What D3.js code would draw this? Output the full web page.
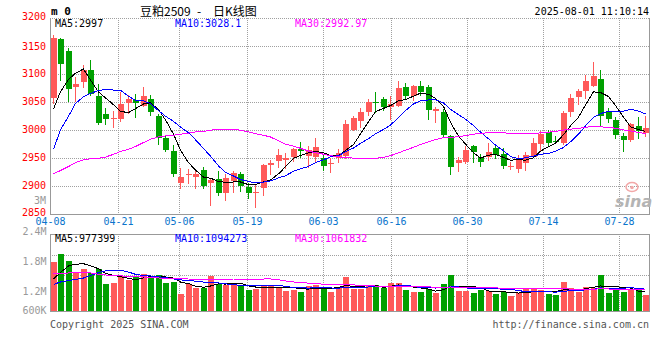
<!DOCTYPE html>
<html><head><meta charset="utf-8">
<script src="https://cdn.jsdelivr.net/npm/d3@7"></script>
<style>body{margin:0;background:#fff}svg{display:block}</style>
</head><body>
<svg id="c" width="660" height="360"></svg>
<script>
const dates = ["04-08","04-09","04-10","04-11","04-14","04-15","04-16","04-17","04-18","04-21","04-22","04-23","04-24","04-25","04-28","04-29","04-30",
"05-06","05-07","05-08","05-09","05-12","05-13","05-14","05-15","05-16","05-19","05-20","05-21","05-22","05-23","05-26","05-27","05-28","05-29","05-30",
"06-03","06-04","06-05","06-06","06-09","06-10","06-11","06-12","06-13","06-16","06-17","06-18","06-19","06-20","06-23","06-24","06-25","06-26","06-27","06-30",
"07-01","07-02","07-03","07-04","07-07","07-08","07-09","07-10","07-11","07-14","07-15","07-16","07-17","07-18","07-21","07-22","07-23","07-24","07-25","07-28","07-29","07-30","07-31",
"08-01"];
const open = [3057,3162,3141,3077,3086,3107,3061,3029,3020,3020,3048,3053,3043,3055,3024,2985,2962,2905,2920,2915,
2927,2905,2911,2886,2908,2921,2897,2888,2895,2936,2944,2945,2952,2966,2953,2952,2950,2940,2950,2953,
3000,3015,3031,3050,3055,3040,3043,3077,3060,3079,3076,3033,3031,2988,2941,2942,2970,2952,2951,2968,
2956,2934,2929,2940,2952,2974,2996,2980,2976,3031,3059,3070,3079,3091,3031,3018,2989,2982,3007,2994];
const high = [3170,3165,3147,3095,3116,3125,3082,3038,3034,3068,3062,3064,3077,3062,3028,2991,2972,2931,2929,2929,
2934,2913,2926,2921,2926,2924,2905,2902,2939,2946,2966,2958,2967,2978,2970,2985,2955,2950,2966,3017,
3025,3038,3055,3067,3058,3061,3087,3083,3080,3087,3080,3040,3037,2990,2951,2970,2972,2957,2977,2974,
2968,2943,2955,2960,2986,2997,3000,2988,3034,3064,3073,3098,3121,3107,3039,3022,2994,3012,3022,3024];
const low = [3048,3089,3052,3051,3076,3062,3010,3011,3004,3015,3030,3023,3042,3026,2974,2961,2918,2896,2904,2896,
2896,2865,2884,2875,2889,2890,2878,2861,2884,2920,2933,2932,2944,2952,2933,2944,2927,2924,2942,2949,
3000,3005,3027,3031,3036,3020,3042,3057,3054,3063,3020,3013,2989,2920,2926,2941,2943,2935,2946,2949,
2931,2930,2924,2927,2951,2961,2972,2976,2974,3024,3046,3056,3078,3006,3014,2985,2962,2980,2986,2988];
const close = [3164,3118,3073,3082,3107,3064,3012,3020,3021,3046,3055,3047,3061,3032,2985,2963,2920,2916,2921,2920,
2899,2910,2886,2914,2923,2899,2886,2889,2936,2940,2954,2949,2965,2961,2963,2969,2935,2941,2958,3011,
3021,3032,3049,3049,3040,3046,3074,3061,3079,3067,3036,3037,2991,2934,2946,2963,2960,2943,2960,2954,
2935,2935,2948,2955,2976,2993,2977,2979,3030,3056,3070,3087,3096,3024,3020,2990,2982,3011,2998,3003];
const ma5 = [3037,3068,3090,3101,3108.8,3088.8,3067.6,3057.0,3044.8,3032.6,3030.8,3037.8,3046.0,3048.2,3036.0,3017.6,2992.2,2963.2,2941.0,2928.0,
2915.2,2913.2,2907.2,2905.8,2906.4,2906.4,2901.6,2902.2,2906.6,2910.0,2921.0,2933.6,2948.8,2953.8,2958.4,2961.4,2958.6,2953.8,2953.2,2962.8,
2973.2,2992.6,3014.2,3032.4,3038.2,3043.2,3051.6,3054.0,3060.0,3065.4,3063.4,3056.0,3042.0,3013.0,2988.8,2974.2,2958.8,2949.2,2954.4,2956.0,
2950.4,2945.4,2946.4,2945.4,2949.8,2961.4,2969.8,2976.0,2991.0,3007.0,3022.4,3044.4,3067.8,3066.6,3059.4,3043.4,3022.4,3005.4,3000.2,2996.8];
const ma10 = [2965,3000,3024,3047,3059,3065,3070,3072,3071,3070.7,3059.8,3052.7,3051.5,3046.5,3034.3,3024.2,3015.0,3004.6,2994.6,2982.0,
2966.4,2952.7,2935.2,2923.4,2917.2,2910.8,2907.4,2904.7,2906.2,2908.2,2913.7,2917.6,2925.5,2930.2,2934.2,2941.2,2946.1,2951.3,2953.5,2960.6,
2967.3,2975.6,2984.0,2992.8,3000.5,3008.2,3022.1,3034.1,3046.2,3051.8,3053.3,3053.8,3048.0,3036.5,3027.1,3018.8,3007.4,2995.6,2983.7,2972.4,
2962.3,2952.1,2947.8,2949.9,2952.9,2955.9,2957.6,2961.2,2968.2,2978.4,2991.9,3007.1,3021.9,3028.8,3033.2,3032.9,3033.4,3036.6,3033.4,3028.1];
const ma30 = [2921,2927,2934,2941,2946,2948,2949,2951,2956,2961,2965,2970,2977,2983,2987,2989,2990,2992,2994,2996,
2997,2999,3001,3001,3001,2999,2996,2993,2990,2987.0,2980.0,2974.3,2970.7,2966.7,2961.9,2958.7,2956.2,2953.5,2951.4,2950.3,
2949.1,2948.6,2948.2,2948.8,2950.6,2953.4,2958.5,2963.4,2968.6,2973.5,2978.1,2982.3,2985.8,2986.5,2987.3,2989.4,2991.9,2993.7,2994.5,2994.9,
2994.3,2993.8,2993.3,2993.1,2993.5,2994.3,2995.7,2997.0,2999.4,3000.9,3002.5,3004.3,3005.9,3005.1,3004.4,3002.5,2999.5,2997.8,2995.1,2993.0];
// volume in millions of lots
const volume = [2.45,2.85,2.50,1.90,2.12,1.92,2.12,1.37,1.40,1.75,1.55,1.72,1.85,1.72,1.80,1.42,1.45,0.85,1.33,1.17,
1.15,1.75,1.37,1.30,1.30,1.25,1.05,1.10,1.30,1.30,1.22,1.00,1.05,0.95,1.27,1.28,1.17,0.97,1.22,1.72,
1.08,1.10,1.25,1.30,1.13,1.42,1.42,1.05,0.95,0.95,1.10,0.92,1.37,1.80,1.02,1.02,0.92,1.05,1.00,0.87,
0.97,0.77,0.88,1.10,1.10,1.03,0.87,0.80,1.45,1.15,0.97,1.22,1.13,1.80,0.92,1.05,0.93,1.05,1.03,0.80];
const volMa5 = [1.60,1.93,2.25,2.34,2.364,2.258,2.112,1.886,1.786,1.712,1.638,1.558,1.654,1.718,1.728,1.702,1.648,1.448,1.370,1.244,
1.190,1.250,1.354,1.348,1.374,1.394,1.254,1.200,1.200,1.200,1.194,1.184,1.174,1.104,1.098,1.110,1.144,1.128,1.182,1.272,
1.232,1.218,1.274,1.290,1.172,1.240,1.304,1.264,1.194,1.158,1.094,0.994,1.058,1.228,1.242,1.226,1.226,1.162,1.002,0.972,
0.962,0.932,0.898,0.918,0.964,0.976,0.996,0.980,1.050,1.060,1.048,1.118,1.184,1.254,1.208,1.224,1.166,1.150,0.996,0.972];
const volMa10 = [1.33,1.45,1.52,1.58,1.65,1.77,1.92,2.01,2.03,2.038,1.948,1.835,1.770,1.752,1.720,1.670,1.603,1.551,1.544,1.486,
1.446,1.449,1.401,1.359,1.309,1.292,1.252,1.277,1.274,1.287,1.294,1.219,1.187,1.152,1.149,1.152,1.164,1.151,1.143,1.185,
1.171,1.181,1.201,1.236,1.222,1.236,1.261,1.269,1.242,1.165,1.167,1.149,1.161,1.211,1.200,1.160,1.110,1.110,1.115,1.107,
1.094,1.079,1.030,0.960,0.968,0.969,0.964,0.939,0.984,1.012,1.012,1.057,1.082,1.152,1.134,1.136,1.142,1.167,1.125,1.090];
const volMa30 = [1.85,1.87,1.90,1.92,1.93,1.90,1.84,1.80,1.78,1.76,1.73,1.71,1.70,1.68,1.65,1.63,1.62,1.61,1.60,1.59,
1.58,1.58,1.58,1.59,1.60,1.60,1.60,1.60,1.60,1.604,1.563,1.501,1.453,1.421,1.393,1.371,1.340,1.326,1.320,1.319,
1.304,1.283,1.263,1.249,1.227,1.227,1.226,1.232,1.220,1.212,1.211,1.183,1.183,1.200,1.190,1.183,1.178,1.177,1.167,1.152,
1.144,1.136,1.131,1.136,1.130,1.122,1.112,1.106,1.114,1.095,1.091,1.095,1.091,1.108,1.101,1.088,1.072,1.072,1.075,1.070];

const priceTicks = [3200,3150,3100,3050,3000,2950,2900,2850];
const dateTicks = ["04-08","04-21","05-06","05-19","06-03","06-16","06-30","07-14","07-28"];
const volTicks = [2.4,1.8,1.2,0.6];
const volTickLabels = ["2.4M","1.8M","1.2M","600K"];
const priceLegend = [["MA5","2997"],["MA10","3028.1"],["MA30","2992.97"]];
const volLegend = [["MA5","977399"],["MA10","1094273"],["MA30","1061832"]];
const maColors = ["#000000","#0000ff","#ff00ff"];
const titleText = ["豆粕2509","-","日K线图"];
const stamp = "2025-08-01 11:10:14";

const UP = "#ff5959", DOWN = "#00a000", GRID = "#a0a0a0", BORDER = "#999";
const MONO = "'DejaVu Sans Mono', monospace";

const svg = d3.select("#c");
const L = 50, R = 650, PT = 18, PB = 213.5, VT = 234, VB = 311;
const idx = d3.range(dates.length);

const xBand = d3.scaleBand().domain(idx).range([L, R]).paddingInner(0.2).paddingOuter(0.1);
const xGrid = d3.scaleLinear().domain([0, dates.length - 1]).range([L, R]);
const cx = i => Math.round(xBand(i)) + 2.5;
const yP = d3.scaleLinear().domain([2850, 3200]).range([PB, PT]);
const yV = d3.scaleLinear().domain([0, 3.85]).range([VB, VT]);
const yVLabel = d3.scaleLinear().domain([2.4, 1.2]).range([231, 291]);
const px = v => Math.round(v) + 0.5;

svg.append("rect").attr("width",660).attr("height",360).attr("fill","#fff");

// ---------- grids ----------
const g = svg.append("g").attr("shape-rendering","crispEdges");
g.selectAll(".hp").data(priceTicks.slice(0, -1)).join("line")
  .attr("x1", L).attr("x2", R).attr("y1", d => px(yP(d))).attr("y2", d => px(yP(d)))
  .attr("stroke", GRID).attr("stroke-dasharray", "1,1");
const tickIdx = dateTicks.map(d => dates.indexOf(d));
g.selectAll(".vp").data(tickIdx.slice(1)).join("line")
  .attr("x1", d => Math.floor(xGrid(d)) + 0.5).attr("x2", d => Math.floor(xGrid(d)) + 0.5)
  .attr("y1", PT).attr("y2", PB).attr("stroke", GRID).attr("stroke-dasharray", "1,1");
g.selectAll(".vv").data(tickIdx.slice(1)).join("line")
  .attr("x1", d => Math.floor(xGrid(d)) + 0.5).attr("x2", d => Math.floor(xGrid(d)) + 0.5)
  .attr("y1", VT).attr("y2", VB).attr("stroke", GRID).attr("stroke-dasharray", "1,1");
g.selectAll(".hv").data([1,2,3]).join("line")
  .attr("x1", L).attr("x2", R)
  .attr("y1", k => px(VT + k * 20.5)).attr("y2", k => px(VT + k * 20.5))
  .attr("stroke", GRID).attr("stroke-dasharray", "1,1");

const b = svg.append("g").attr("shape-rendering","crispEdges").attr("stroke", BORDER).attr("fill","none");
b.append("path").attr("d", `M${L+0.5},${PT}V${px(PB)}H${R-0.5}V${PT}`);
b.append("path").attr("d", `M${L+0.5},${VT+0.5}V${VB+0.5}H${R-0.5}V${VT+0.5}Z`);

// watermark
const wm = svg.append("g");
wm.append("ellipse").attr("cx",632).attr("cy",187).attr("rx",6).attr("ry",4.5)
  .attr("fill","none").attr("stroke","#f2a8a8").attr("stroke-width",1.5);
wm.append("circle").attr("cx",632).attr("cy",187.5).attr("r",1.8).attr("fill","#f2a8a8");
wm.append("text").attr("x",615).attr("y",207).text("sina")
  .attr("font-family","'DejaVu Sans', sans-serif").attr("font-size",16)
  .attr("font-style","italic").attr("font-weight","bold").attr("fill","#b4b4b4");

// ---------- candles ----------
const cg = svg.append("g").attr("shape-rendering","crispEdges");
const col = i => close[i] >= open[i] ? UP : DOWN;
cg.selectAll(".wick").data(idx).join("line")
  .attr("x1", cx).attr("x2", cx)
  .attr("y1", i => Math.round(yP(high[i]))).attr("y2", i => Math.round(yP(low[i])) + 1)
  .attr("stroke", col);
cg.selectAll(".body").data(idx).join("rect")
  .attr("x", i => Math.round(xBand(i)))
  .attr("width", Math.round(xBand.bandwidth()))
  .attr("y", i => Math.round(yP(Math.max(open[i], close[i]))))
  .attr("height", i => Math.max(1, Math.round(yP(Math.min(open[i], close[i]))) - Math.round(yP(Math.max(open[i], close[i])))))
  .attr("fill", col);

// ---------- price MAs ----------
const mg = svg.append("g").attr("fill","none").attr("shape-rendering","crispEdges");
[ma5, ma10, ma30].forEach((s, k) => {
  mg.append("path").attr("d", d3.line().x((v, i) => cx(i)).y(v => yP(v))(s))
    .attr("stroke", maColors[k]).attr("stroke-width", 1);
});

// ---------- volume ----------
const vg = svg.append("g").attr("shape-rendering","crispEdges");
vg.selectAll(".vb").data(idx).join("rect")
  .attr("x", i => Math.round(xBand(i)))
  .attr("width", Math.round(xBand.bandwidth()))
  .attr("y", i => Math.round(yV(volume[i])))
  .attr("height", i => VB - Math.round(yV(volume[i])))
  .attr("fill", col);
[volMa5, volMa10, volMa30].forEach((s, k) => {
  vg.append("path").attr("d", d3.line().x((v, i) => cx(i)).y(v => yV(v))(s))
    .attr("fill","none").attr("stroke", maColors[k]).attr("stroke-width", 1);
});

// ---------- text ----------
const t = svg.append("g").attr("font-family", MONO).attr("font-size", 10);
t.selectAll(".pl").data(priceTicks).join("text")
  .attr("x", 46).attr("y", d => yP(d) + 3.6 - (d === 3200 ? 2 : 0) - (d === 2850 ? 1.5 : 0)).attr("text-anchor","end")
  .attr("fill","#f00").text(d => d);
t.append("text").attr("x",46).attr("y",204.3).attr("text-anchor","end").attr("fill","#999").text("3M");
t.selectAll(".dl").data(dateTicks).join("text")
  .attr("x", d => Math.floor(xGrid(dates.indexOf(d))) + 0.5).attr("y", 224.5)
  .attr("text-anchor","middle").attr("fill","#0a74cc").text(d => d);
t.selectAll(".vl").data(volTicks).join("text")
  .attr("x", 46.5).attr("y", (d) => Math.min(yVLabel(d), 310.7) + 3.6)
  .attr("text-anchor","end").attr("fill","#999").text((d, i) => volTickLabels[i]);
const legX = [55, 175, 295];
t.selectAll(".lg").data(priceLegend).join("text")
  .attr("x", (d, i) => legX[i]).attr("y", 27).attr("fill", (d, i) => maColors[i])
  .text(d => d[0] + ":" + d[1]);
t.selectAll(".lv").data(volLegend).join("text")
  .attr("x", (d, i) => legX[i]).attr("y", 241.8).attr("fill", (d, i) => maColors[i])
  .text(d => d[0] + ":" + d[1]);
t.append("text").attr("x", 51).attr("y", 15).attr("font-size", 11).attr("font-weight","bold").attr("fill","#000").text("m 0");
t.append("text").attr("x", 649).attr("y", 15).attr("text-anchor","end").attr("fill","#000").text(stamp);
const title = svg.append("text").attr("y", 15.5).attr("font-family","'Noto Sans CJK SC', sans-serif")
  .attr("font-size", 12).attr("fill","#000");
title.append("tspan").attr("x", 140).text(titleText[0]);
title.append("tspan").attr("x", 197).text(titleText[1]);
title.append("tspan").attr("x", 213).text(titleText[2]);
t.append("text").attr("x", 50).attr("y", 328).attr("fill","#555").text("Copyright 2025 SINA.COM");
t.append("text").attr("x", 649).attr("y", 328).attr("text-anchor","end").attr("fill","#555").text("http://finance.sina.com.cn");
</script>
</body></html>
